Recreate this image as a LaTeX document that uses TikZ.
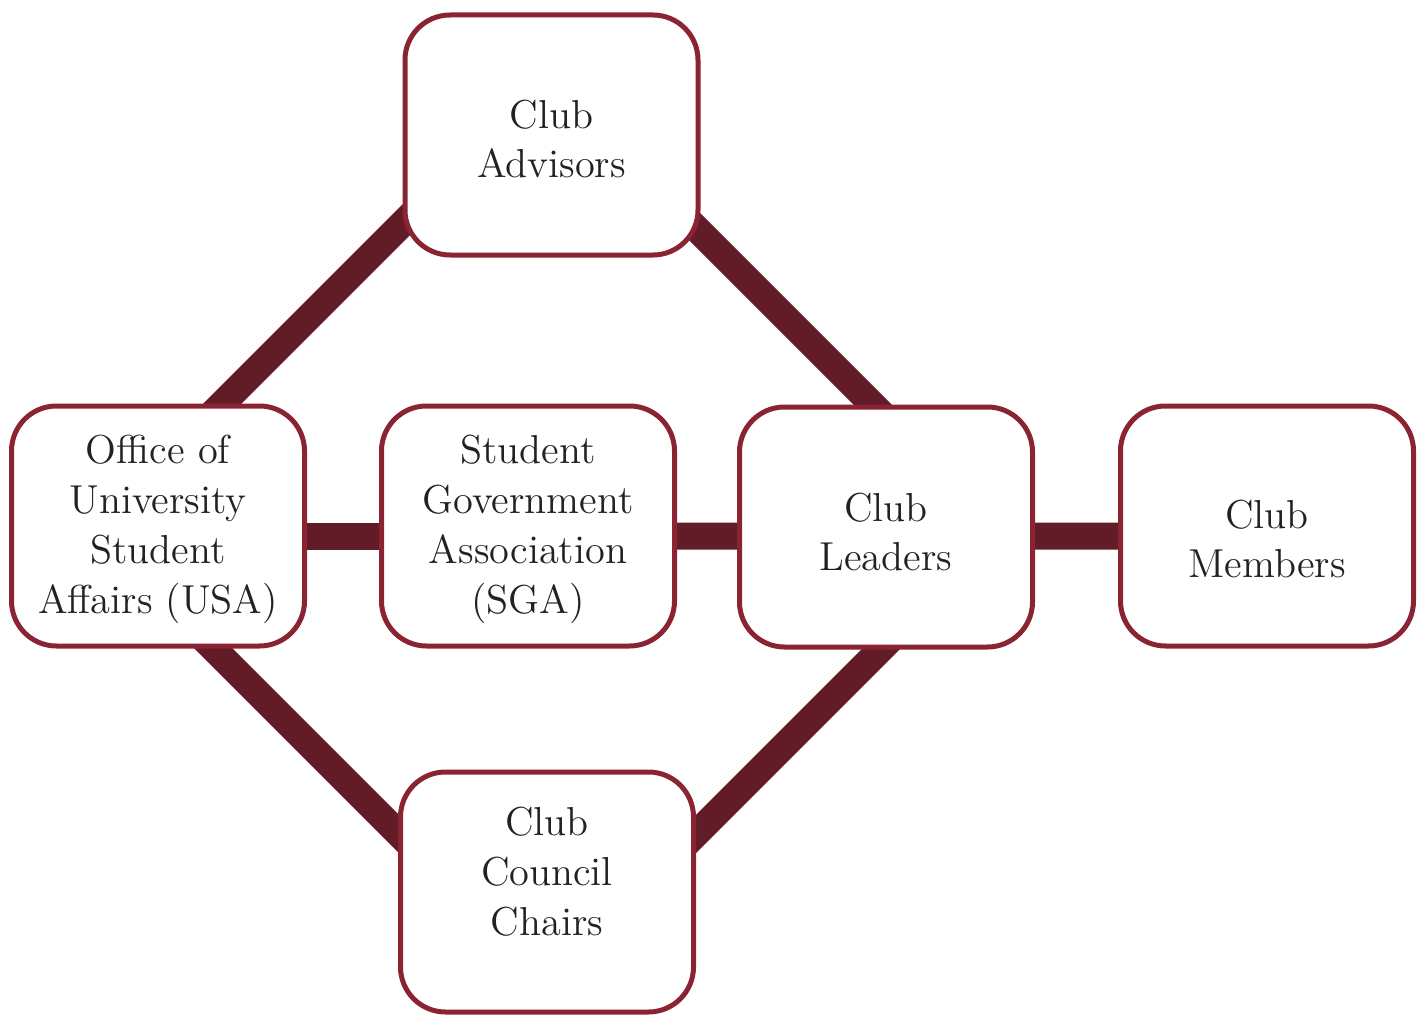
\documentclass[tikz,border=0pt]{standalone}
\usepackage{tikz}
\pgfdeclarelayer{bg}
\pgfsetlayers{bg,main}
\definecolor{boxred}{HTML}{8A2432}
\definecolor{linkred}{HTML}{621C27}
\definecolor{txtgray}{HTML}{222222}
\tikzset{
    unit/.style={draw=boxred, line width=0.05cm, fill=white, rounded corners=0.45cm,
        minimum width=2.93cm, minimum height=2.40cm, inner sep=0pt},
    txt/.style={align=center, text=txtgray, inner sep=0pt,
        font=\fontsize{11.5}{14.2}\selectfont},
    link/.style={draw=linkred, line width=0.27cm}
}
\begin{document}
\begin{tikzpicture}
\useasboundingbox (0,0) rectangle (14.25,10.15);

\node[unit, label={[txt, yshift=-0.04cm]center:Club\\Advisors}] (advisors) at (5.515,8.80) {};
\node[unit, label={[txt, yshift=-0.03cm]center:Office of\\University\\Student\\Affairs (USA)}] (usa) at (1.58,4.89) {};
\node[unit, label={[txt, yshift=-0.03cm]center:Student\\Government\\Association\\(SGA)}] (sga) at (5.28,4.89) {};
\node[unit, label={[txt, yshift=-0.05cm]center:Club\\Leaders}] (leaders) at (8.86,4.88) {};
\node[unit, label={[txt, yshift=-0.13cm]center:Club\\Members}] (members) at (12.67,4.89) {};
\node[unit, label={[txt, yshift=0.2cm]center:Club\\Council\\Chairs}] (council) at (5.47,1.23) {};

% diamond corners (hidden inside the boxes)
\coordinate (dtop) at (5.47,9.36);
\coordinate (dleft) at (0.955,4.845);
\coordinate (dright) at (9.99,4.84);
\coordinate (dbottom) at (5.475,0.325);

\begin{pgfonlayer}{bg}
% diagonal
\draw[link] (dleft) -- (dtop);
\draw[link] (dtop) -- (dright);
\draw[link] (dleft) -- (dbottom);
\draw[link] (dright) -- (dbottom);

% middle row
\draw[link] ([yshift=-0.1cm]usa.east) -- ([yshift=-0.1cm]sga.west);
\draw[link] ([yshift=-0.1cm]sga.east) -- ([yshift=-0.09cm]leaders.west);
\draw[link] ([yshift=-0.09cm]leaders.east) -- ([yshift=-0.1cm]members.west);
\end{pgfonlayer}
\end{tikzpicture}
\end{document}
